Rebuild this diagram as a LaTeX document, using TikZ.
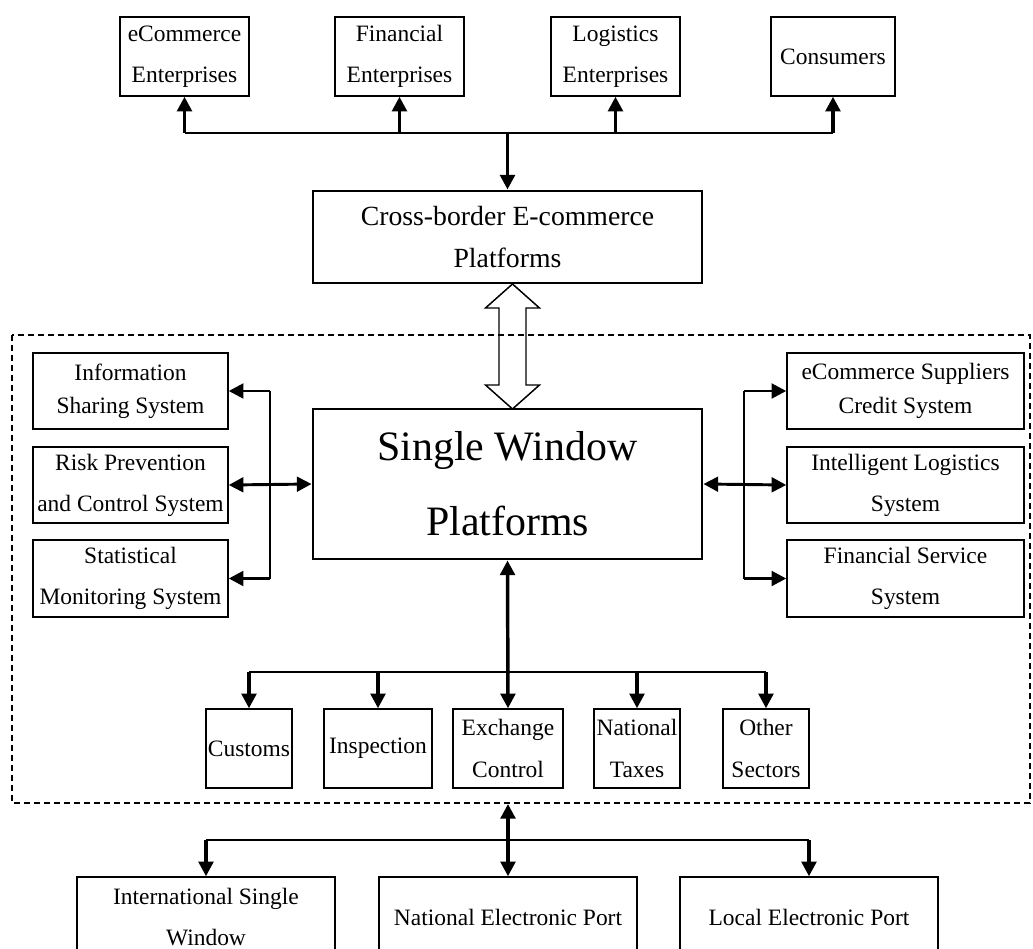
\documentclass[tikz,border=0pt]{standalone}
\usepackage{fontspec}
\setmainfont{Liberation Serif}
\usetikzlibrary{arrows.meta,calc}
\begin{document}
\begin{tikzpicture}[x=0.75pt,y=-0.75pt,
  box/.style={draw, line width=1.1pt, inner sep=0pt, align=center,
    font=\fontsize{17.6}{30.8}\selectfont},
  tightbox/.style={box, font=\fontsize{17.6}{25}\selectfont},
  bigbox/.style={draw, line width=2.2pt, inner sep=0pt, align=center},
  sz/.style 2 args={minimum width=#1*0.75pt, minimum height=#2*0.75pt},
  tip/.style={-{Triangle[length=11pt,width=11pt]}},
  dtip/.style={{Triangle[length=11pt,width=11pt]}-{Triangle[length=11pt,width=11pt]}},
  bus/.style={line width=1.5pt},
  stem/.style={line width=2.6pt},
  side/.style={line width=2.2pt},
  frame/.style={dashed, line width=0.8pt, dash pattern=on 4.5pt off 3pt}
]
\useasboundingbox (0,0) rectangle (1033,949);
\begin{scope}
\clip (0,0) rectangle (1033,949);

% top boxes
\node[box, sz={129}{79}] (ec)  at (184.5,56.5) {eCommerce\\Enterprises};
\node[box, sz={129}{79}] (fin) at (399.5,56.5) {Financial\\Enterprises};
\node[box, sz={129}{79}] (log) at (615.5,56.5) {Logistics\\Enterprises};
\node[box, sz={124}{79}] (con) at (833,56.5) {Consumers};

% cross-border platform
\node[bigbox, sz={389}{92}, font=\fontsize{20.8}{30.8}\selectfont] (cb) at (507.5,237) {Cross-border E-commerce\\Platforms};

% main box
\node[bigbox, sz={389}{150}, font=\fontsize{31.4}{56}\selectfont] (main) at (507.5,484) {\raisebox{-4pt}{Single Window}\\\raisebox{-4pt}{Platforms}};

% left boxes
\node[tightbox, sz={195}{76}] (info) at (130.5,391) {Information\\Sharing System};
\node[box, sz={195}{76}] (risk) at (130.5,485) {Risk Prevention\\and Control System};
\node[box, sz={195}{77}] (stat) at (130.5,578.5) {Statistical\\Monitoring System};

% right boxes
\node[tightbox, sz={237}{76}] (sup) at (905.5,391) {eCommerce Suppliers\\Credit System};
\node[box, sz={237}{76}] (ils) at (905.5,485) {Intelligent Logistics\\System};
\node[box, sz={237}{77}] (fss) at (905.5,578.5) {Financial Service\\System};

% sector boxes
\node[box, sz={86}{79}]  (cus) at (249,748.5) {Customs};
\node[box, sz={108}{79}] (ins) at (378,748.5) {Inspection};
\node[box, sz={110}{79}] (exc) at (508,748.5) {Exchange\\Control};
\node[box, sz={86}{79}]  (nat) at (637,748.5) {National\\Taxes};
\node[box, sz={86}{79}]  (oth) at (766,748.5) {Other\\Sectors};

% bottom boxes
\node[box, sz={258}{80}] (isw) at (206,917) {International Single\\Window};
\node[box, sz={258}{80}] (nep) at (508,917) {National Electronic Port};
\node[box, sz={258}{80}] (lep) at (809,917) {Local Electronic Port};

% dashed frame
\draw[frame] (12,335) rectangle (1030,803);

% top connectors
\coordinate (tb1) at (184.5,133);
\coordinate (tb2) at (399.5,133);
\coordinate (tb3) at (615.5,133);
\coordinate (tb4) at (833,133);
\coordinate (tbc) at (507.5,133);
\draw[bus] (tb1) -- (tb4);
\draw[stem, tip] (tb1) -- (ec.south);
\draw[stem, tip] (tb2) -- (fin.south);
\draw[stem, tip] (tb3) -- (log.south);
\draw[stem, tip] (tb4) -- (con.south);
\draw[stem, tip] (tbc) -- (cb.north);

% hollow double arrow
\coordinate (ht) at (512.5,284);
\draw[line width=1.1pt, line join=miter] (ht) -- ++(27,24) -- ++(-13.5,0) -- ++(0,77) -- ++(13.5,0)
  -- ++(-27,24) -- ++(-27,-24) -- ++(13.5,0) -- ++(0,-77) -- ++(-13.5,0) -- cycle;

% left connectors
\coordinate (lv1) at (270,391);
\coordinate (lv3) at (270,578.5);
\draw[side] (lv1) -- (lv3);
\draw[side, tip] (lv1) -- (info.east);
\draw[side, tip] (lv3) -- (stat.east);
\draw[side, dtip] (risk.east) -- (main.west);

% right connectors
\coordinate (rv1) at (744,391);
\coordinate (rv3) at (744,578.5);
\draw[side] (rv1) -- (rv3);
\draw[side, tip] (rv1) -- (sup.west);
\draw[side, tip] (rv3) -- (fss.west);
\draw[side, dtip] (main.east) -- (ils.west);

% sector connectors
\coordinate (sb1) at (249,672);
\coordinate (sb2) at (378,672);
\coordinate (sb4) at (637,672);
\coordinate (sb5) at (766,672);
\draw[bus] (sb1) -- (sb5);
\draw[stem, dtip] (main.south) -- (exc.north);
\draw[stem, tip] (sb1) -- (cus.north);
\draw[stem, tip] (sb2) -- (ins.north);
\draw[stem, tip] (sb4) -- (nat.north);
\draw[stem, tip] (sb5) -- (oth.north);

% bottom connectors
\coordinate (dtop) at (508,804);
\coordinate (bb1) at (206,840);
\coordinate (bb3) at (809,840);
\draw[bus] (bb1) -- (bb3);
\draw[stem, dtip] (dtop) -- (nep.north);
\draw[stem, tip] (bb1) -- (isw.north);
\draw[stem, tip] (bb3) -- (lep.north);
\end{scope}
\end{tikzpicture}
\end{document}
